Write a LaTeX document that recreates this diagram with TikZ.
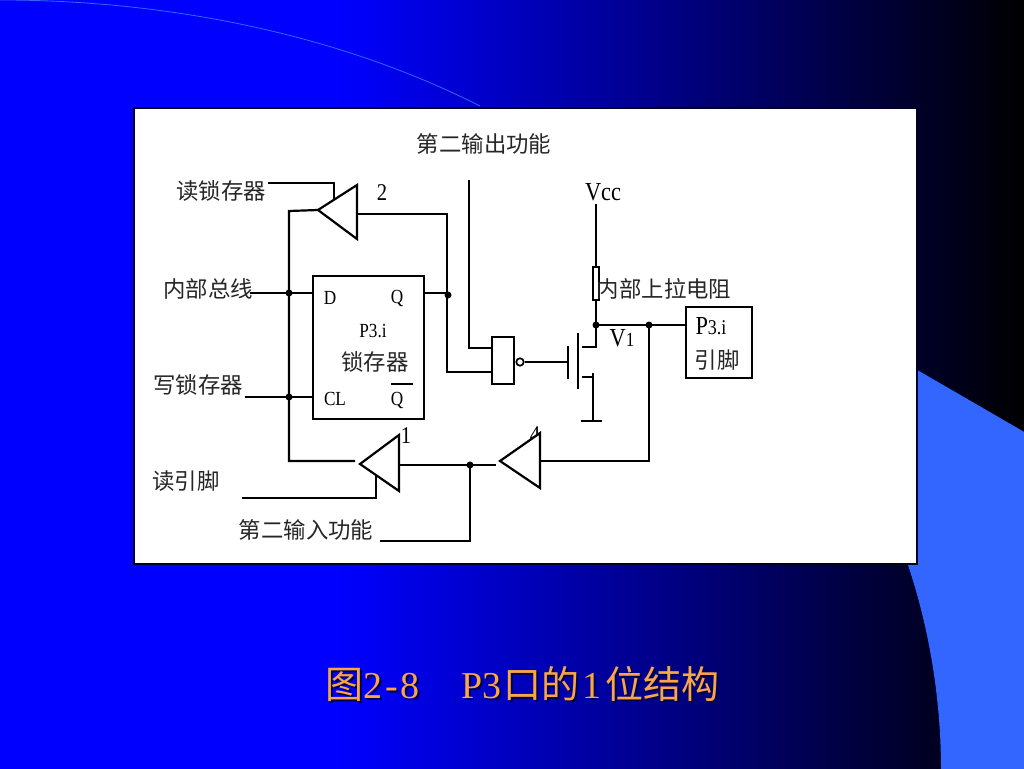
\documentclass[tikz,border=0pt]{standalone}
\usepackage{fontspec}
\setmainfont{Liberation Serif}
\newfontfamily\narrow[FakeStretch=0.86]{Liberation Serif}
\newfontfamily\cjk{Noto Sans CJK SC}
\usetikzlibrary{positioning}
\definecolor{accentblue}{RGB}{51,102,255}
\definecolor{titleorange}{RGB}{250,165,70}
\tikzset{
  wire/.style={line width=2.2pt, black},
  part/.style={draw=black, line width=2.2pt, fill=white, inner sep=0pt},
  zh/.style={inner sep=0pt, black!85, font=\fontsize{22.4}{24}\selectfont\cjk},
  en/.style={inner sep=0pt, black, font=\fontsize{24}{26}\selectfont\narrow},
  small/.style={inner sep=0pt, black, font=\fontsize{20}{22}\selectfont\narrow},
  headline/.style={inner sep=0pt, font=\fontsize{38}{40}\selectfont}
}
\newcommand{\headtext}{{\cjk 图}2\hspace{3pt}-\hspace{3pt}8\hspace{42pt}P3\hspace{2pt}{\cjk 口的}\hspace{3pt}1\hspace{4pt}{\cjk 位结构}}
\begin{document}
\begin{tikzpicture}[x=1pt, y=-1pt]
    \useasboundingbox (0,0) rectangle (1024,768);

    % draw slide background
    \fill[blue] (-2,-2) rectangle (341,770);
    \shade[left color=blue, right color=black] (340,-2) rectangle (1026,770);
    \fill[accentblue] (900,360) -- (1026,433) -- (1026,770) -- (941,770)
      .. controls (941,695) and (928,625) .. (908,565) -- cycle;
    \draw[accentblue, line width=0.8pt] (0,0) .. controls (170,0) and (340,35) .. (480,106);
    \draw[fill=white, draw=black!85!blue, line width=2.5pt] (134,108) rectangle (917,564);

    % draw parts
    \node[part, minimum width=111pt, minimum height=143pt] (latch) at (368.5,347.5) {};
    \node[part, minimum width=22pt, minimum height=47pt] (nandgate) at (503,360.5) {};
    \node[part, line width=1.6pt, minimum width=6pt, minimum height=33pt] (pullup) at (596,283.5) {};
    \node[part, minimum width=66pt, minimum height=71pt] (pinbox) at (719,342.5) {};
    \node[draw=black, line width=1.7pt, circle, fill=white, inner sep=0pt, minimum size=7.5pt] (bubble) at (520,362) {};

    % free wire ends and corners
    \foreach \name/\x/\y in {rlIn/268/183, rlTurn/334/183, rlEnd/334/200, busTop/289/211, dIn/250/293,
        dBus/289/293, wrIn/245/397, wrBus/289/397, busEnd/289/461, outQ/448/295, outTop/447/214,
        outLow/447/372, altTop/469/180, altLow/469/348, gateIn/568/362, gateTop/568/346, gateLow/568/379,
        chTop/578/333, chLow/578/389, drainL/582/347, drainR/596/347, vccTop/596/204, nodeV/596/325,
        srcL/582/377, srcR/593/377, srcTick/593/373, gndC/593/421, gndL/581/421, gndR/602/421,
        nodePin/649/325, backLow/649/461, inMid/470/465, tfourOut/496/465, alt2End/470/541, alt2In/380/541,
        rpIn/242/498, rpTurn/376/498, rpEnd/376/475, barL/391/384, barR/413/384, oneWest/355/461}
      \coordinate (\name) at (\x,\y);

    % draw buffers (apex, base top, base bottom)
    \foreach \name/\ax/\ay/\bx/\ty/\by in {two/318/210/357/185/239, one/360/464/399/435/491, four/500/461/540/433/488} {
      \coordinate (\name A) at (\ax,\ay);
      \coordinate (\name T) at (\bx,\ty);
      \coordinate (\name B) at (\bx,\by);
      \coordinate (\name M) at (\bx,\ay);
    }

    % draw labels
    \node[zh] (secOut) at (484,144) {第二输出功能};
    \node[zh] (readLatch) at (221,191) {读锁存器};
    \node[zh] (innerBus) at (208,289) {内部总线};
    \node[zh] (writeLatch) at (198,385) {写锁存器};
    \node[zh] (readPin) at (186,481) {读引脚};
    \node[zh] (secIn) at (306,530) {第二输入功能};
    \node[zh] (latchName) at (375,362) {锁存器};
    \node[zh] (pullName) at (664,289) {内部上拉电阻};
    \node[zh] (pinName) at (717,360) {引脚};
    \node[en, font=\fontsize{26}{28}\selectfont\narrow] (vcc) at (603,192) {Vcc};
    \node[en, font=\fontsize{26}{28}\selectfont\narrow] (vOne) at (622,338) {V{\fontsize{20}{22}\selectfont 1}};
    \node[en, font=\fontsize{26}{28}\selectfont\narrow] (pinTitle) at (711,326) {P{\fontsize{21}{22}\selectfont 3.i}};
    \node[en] (numTwo) at (382,193) {2};
    \node[en] (numOne) at (406,436) {1};
    \node[en] (numFour) at (535,435) {4};
    \node[small] (pinD) at (330,298) {D};
    \node[small] (pinQ) at (397,298) {Q};
    \node[small] (latchTitle) at (373,331) {P3.i};
    \node[small] (pinCL) at (335,399) {CL};
    \node[small] (pinQn) at (397,400) {Q};

    % draw wires
    \draw[wire] (rlIn) -- (rlTurn) -- (rlEnd);
    \draw[wire] (twoA) -- (busTop) -- (busEnd) -- (oneWest);
    \draw[wire] (dIn) -- (latch.west |- dIn);
    \draw[wire] (wrIn) -- (latch.west |- wrIn);
    \draw[wire] (latch.east |- dIn) -- (outQ |- dIn);
    \draw[wire] (twoT |- outTop) -- (outTop) -- (outLow) -- (nandgate.west |- outLow);
    \draw[wire] (altTop) -- (altLow) -- (nandgate.west |- altLow);
    \draw[wire] (bubble) -- (gateIn);
    \draw[wire] (gateTop) -- (gateLow);
    \draw[wire] (chTop) -- (chLow);
    \draw[wire] (drainL) -- (drainR) -- (nodeV);
    \draw[wire] (vccTop) -- (pullup.north);
    \draw[wire] (pullup.south) -- (nodeV);
    \draw[wire] (srcL) -- (srcR);
    \draw[wire] (srcTick) -- (gndC);
    \draw[wire] (gndL) -- (gndR);
    \draw[wire] (nodeV) -- (nodePin) -- (pinbox.west |- nodePin);
    \draw[wire] (nodePin) -- (backLow) -- (fourM);
    \draw[wire] (oneT |- inMid) -- (tfourOut);
    \draw[wire] (inMid) -- (alt2End) -- (alt2In);
    \draw[wire] (rpIn) -- (rpTurn) -- (rpEnd);
    \draw[wire] (barL) -- (barR);

    % draw buffer outlines on top
    \foreach \name in {two,one,four}
      \draw[part] (\name A) -- (\name T) -- (\name B) -- cycle;

    % draw junction dots
    \foreach \dotname in {dBus,wrBus,outQ,nodeV,nodePin,inMid}
      \fill (\dotname) circle (3.5pt);

    % draw caption
    \node[headline, anchor=west, black!70!blue] (captionShade) at (327,686) {\headtext};
    \node[headline, anchor=west, titleorange] (caption) at (325,684) {\headtext};
\end{tikzpicture}
\end{document}
